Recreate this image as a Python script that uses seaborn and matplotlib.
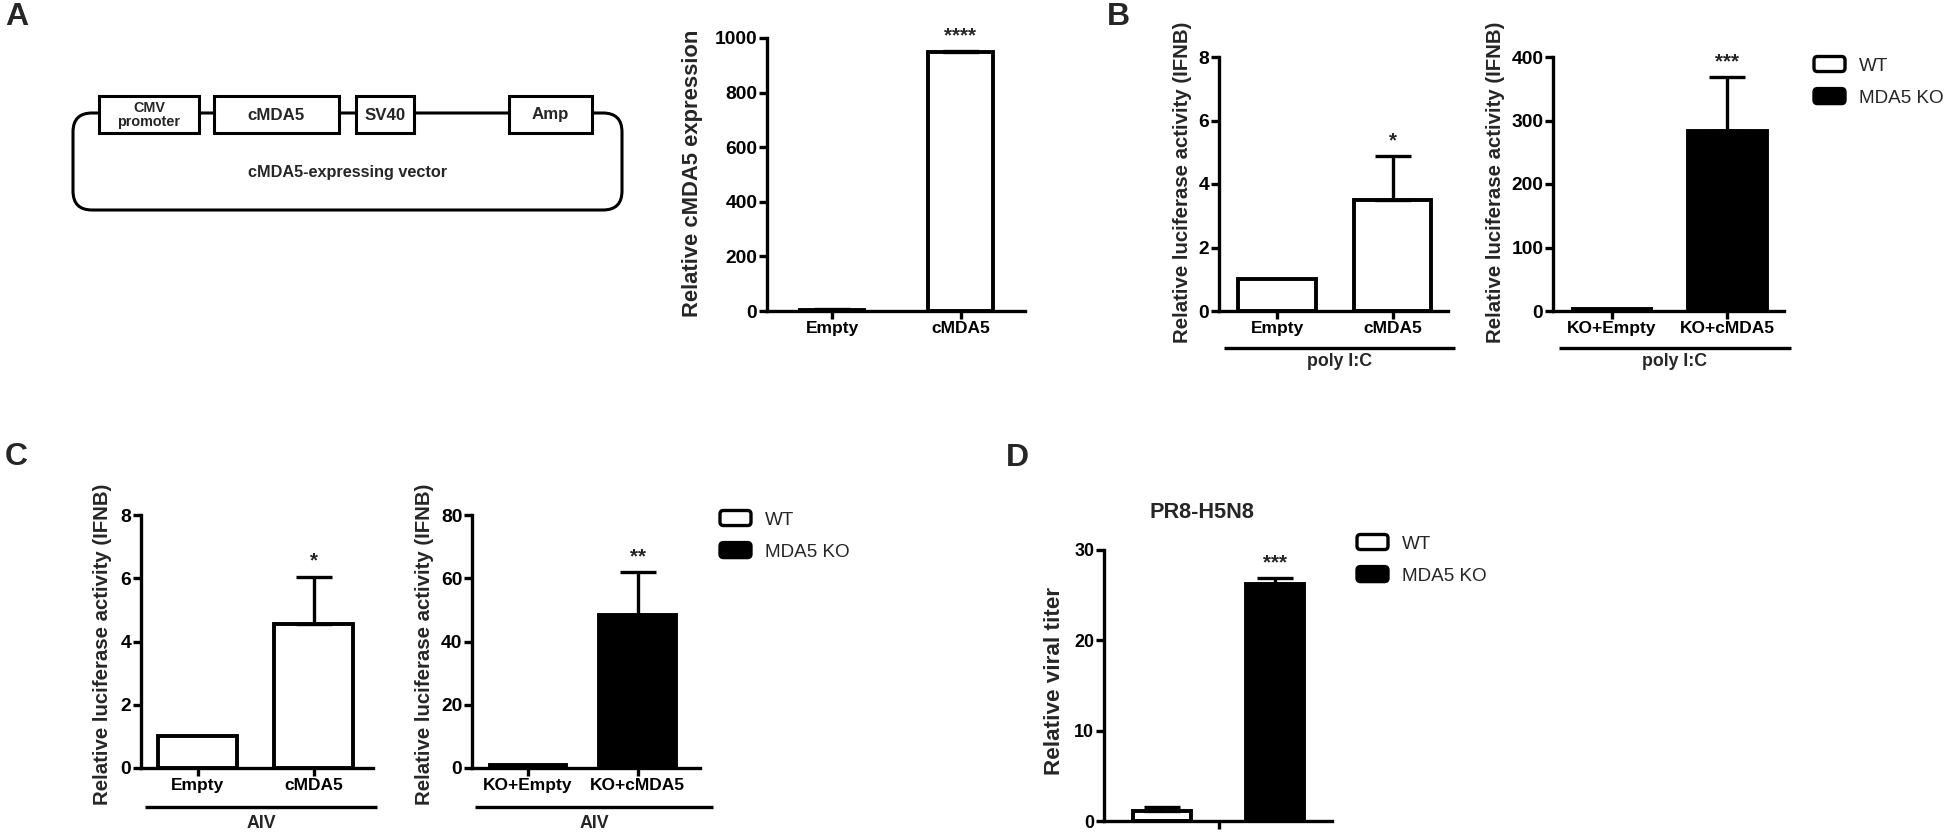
import numpy as np
import pandas as pd
import matplotlib
matplotlib.use('Agg')
import matplotlib.pyplot as plt
import seaborn as sns
from matplotlib.patches import Patch, FancyBboxPatch, Rectangle
from matplotlib.legend_handler import HandlerPatch

# ---------------- data ----------------
a_cats = ['Empty', 'cMDA5']
a_means = [5, 947]
a_errs = [2, 5]
a_stars = ['', '****']
a_yticks = [0, 200, 400, 600, 800, 1000]
a_ylabel = 'Relative cMDA5 expression'

b1_cats = ['Empty', 'cMDA5']
b1_means = [1.0, 3.5]
b1_errs = [0.0, 1.37]
b1_stars = ['', '*']
b1_yticks = [0, 2, 4, 6, 8]

b2_cats = ['KO+Empty', 'KO+cMDA5']
b2_means = [2.5, 283]
b2_errs = [0.0, 85]
b2_stars = ['', '***']
b2_yticks = [0, 100, 200, 300, 400]

c1_cats = ['Empty', 'cMDA5']
c1_means = [1.0, 4.55]
c1_errs = [0.0, 1.5]
c1_stars = ['', '*']
c1_yticks = [0, 2, 4, 6, 8]

c2_cats = ['KO+Empty', 'KO+cMDA5']
c2_means = [0.8, 48.3]
c2_errs = [0.0, 13.6]
c2_stars = ['', '**']
c2_yticks = [0, 20, 40, 60, 80]

luc_ylabel = 'Relative luciferase activity (IFNB)'
group_b = 'poly I:C'
group_c = 'AIV'

d_title = 'PR8-H5N8'
d_groups = ['WT', 'MDA5 KO']
d_means = [1.1, 26.2]
d_errs = [0.4, 0.7]
d_stars = ['', '***']
d_yticks = [0, 10, 20, 30]
d_ylabel = 'Relative viral titer'

legend_labels = ['WT', 'MDA5 KO']
legend_fills = ['white', 'black']

vector_parts = ['CMV\npromoter', 'cMDA5', 'SV40', 'Amp']
vector_name = 'cMDA5-expressing vector'
panel_letters = ['A', 'B', 'C', 'D']

# ---------------- style ----------------
sns.set_style('ticks')
plt.rcParams['font.family'] = ['Liberation Sans', 'DejaVu Sans']
plt.rcParams['font.weight'] = 'bold'
plt.rcParams['axes.labelweight'] = 'bold'
plt.rcParams['axes.edgecolor'] = 'black'
plt.rcParams['xtick.color'] = 'black'
plt.rcParams['ytick.color'] = 'black'

W, H = 1950, 836
fig = plt.figure(figsize=(W / 100, H / 100), dpi=100)
fig.patch.set_facecolor('white')
renderer = fig.canvas.get_renderer()


def fit(s, target_px, weight='bold'):
    """font size (pt) giving string s a rendered width of target_px."""
    base = 20.0
    t = fig.text(0, 0, s, fontsize=base, fontweight=weight)
    w = t.get_window_extent(renderer=renderer).width
    t.remove()
    return base * target_px / w


def px_axes(x0, x1, y0, y1):
    return fig.add_axes([x0 / W, 1 - y1 / H, (x1 - x0) / W, (y1 - y0) / H])


LW = 2.4
BAR_LW = 2.8


def style_axes(ax, yticks, xlim, ytick_fs, xtick_fs):
    ax.set_ylim(0, yticks[-1])
    ax.set_yticks(yticks)
    ax.set_xlim(*xlim)
    for s in ['top', 'right']:
        ax.spines[s].set_visible(False)
    for s in ['left', 'bottom']:
        ax.spines[s].set_linewidth(LW)
    ax.tick_params(axis='y', direction='out', length=6, width=LW, labelsize=ytick_fs, pad=1.0)
    ax.tick_params(axis='x', direction='out', length=6, width=LW, labelsize=xtick_fs, pad=1.0)
    ax.set_xlabel('')
    ax.set_facecolor('white')


def add_errs_stars(ax, means, errs, stars, star_fs):
    centers = sorted([p.get_x() + p.get_width() / 2 for p in ax.patches])
    em = star_fs * 100 / 72
    for xc, m, e, s in zip(centers, means, errs, stars):
        if e > 0:
            ax.errorbar([xc], [m], yerr=[[0], [e]], fmt='none', ecolor='black',
                        elinewidth=LW, capsize=13, capthick=LW)
        if s:
            off_px = 22 - 0.58 * em
            ax.annotate(s, (xc, m + e), xytext=(0, off_px * 72 / 100), textcoords='offset points',
                        ha='center', va='baseline', fontsize=star_fs, fontweight='bold')


def set_ylabel(ax, text, fs, center_x, center_y, ax_box):
    x0, x1, y0, y1 = ax_box
    ax.set_ylabel(text, fontsize=fs, fontweight='bold')
    em = fs * 100 / 72
    right = center_x + 0.46 * em
    ax.yaxis.set_label_coords((right - x0) / (x1 - x0), (y1 - center_y) / (y1 - y0))


def bar_panel(ax, box, cats, means, errs, fills, yticks, xlim, width, stars, star_fs,
              ytick_fs, xtick_fs):
    df = pd.DataFrame({'cat': cats, 'val': means})
    sns.barplot(data=df, x='cat', y='val', hue='cat', order=cats, hue_order=cats,
                palette=fills, width=width, edgecolor='black', linewidth=BAR_LW,
                errorbar=None, legend=False, saturation=1, ax=ax)
    style_axes(ax, yticks, xlim, ytick_fs, xtick_fs)
    add_errs_stars(ax, means, errs, stars, star_fs)


def group_line(ax, box, x0p, x1p, y_line, y_text, text, fs):
    bx0, bx1, by0, by1 = box
    fx = lambda px: (px - bx0) / (bx1 - bx0)
    fy = lambda py: (by1 - py) / (by1 - by0)
    ax.plot([fx(x0p), fx(x1p)], [fy(y_line)] * 2, transform=ax.transAxes, clip_on=False,
            color='black', lw=LW, solid_capstyle='butt')
    ax.text(fx((x0p + x1p) / 2), fy(y_text), text, transform=ax.transAxes, ha='center',
            va='center', fontsize=fs, fontweight='bold')


class RoundedPatchHandler(HandlerPatch):
    def create_artists(self, legend, orig_handle, xdescent, ydescent, width, height,
                       fontsize, trans):
        p = FancyBboxPatch((-xdescent, -ydescent), width, height,
                           boxstyle='round,pad=0,rounding_size=2.5',
                           facecolor=orig_handle.get_facecolor(),
                           edgecolor=orig_handle.get_edgecolor(),
                           linewidth=orig_handle.get_linewidth(), transform=trans)
        return [p]


leg_fs = fit('MDA5 KO', 85, weight='normal')
leg_em = leg_fs * 100 / 72


def add_legend(x_left, y_center_first):
    handles = [Patch(facecolor=c, edgecolor='black', linewidth=LW) for c in legend_fills]
    t = fig.text(0, 0, 'MDA5 KO', fontsize=leg_fs, fontweight='normal')
    th = t.get_window_extent(renderer=renderer).height
    t.remove()
    spacing = (31 - th) / leg_em
    fig.legend(handles, legend_labels, loc='upper left',
               bbox_to_anchor=(x_left / W, 1 - (y_center_first - th / 2) / H), frameon=False,
               prop={'family': 'Liberation Sans', 'weight': 'normal', 'size': leg_fs},
               handlelength=31 / leg_em, handleheight=16 / leg_em,
               handletextpad=14 / leg_em, labelspacing=spacing, borderpad=0, borderaxespad=0,
               handler_map={Patch: RoundedPatchHandler()})


# font sizes fitted to the reference text widths
lab_luc = fit(luc_ylabel, 322)
lab_a = fit(a_ylabel, 287)
lab_d = fit(d_ylabel, 187)
ytick_main = fit('1000', 43)
ytick_d = fit('30', 20)
xtick_fs = fit('KO+cMDA5', 95)
group_fs = fit(group_b, 65)
star_fs = fit('***', 24)
title_fs = fit(d_title, 105)

# ---------------- overlay: vector diagram + panel letters ----------------
ov = fig.add_axes([0, 0, 1, 1])
ov.set_xlim(0, W)
ov.set_ylim(H, 0)
ov.axis('off')
ov.add_patch(FancyBboxPatch((73, 113), 622 - 73, 210 - 113,
                            boxstyle='round,pad=0,rounding_size=19',
                            fc='none', ec='black', lw=2.2, zorder=1))
box_x = [(99, 199), (214, 339), (356, 414), (509, 592)]
part_fs = fit('promoter', 63)
for (x0, x1), name in zip(box_x, vector_parts):
    ov.add_patch(Rectangle((x0, 96), x1 - x0, 37, fc='white', ec='black', lw=2.2, zorder=3))
    fs = part_fs if '\n' in name else fit('cMDA5', 57)
    ov.text((x0 + x1) / 2, 115, name, ha='center', va='center', fontsize=fs,
            fontweight='bold', linespacing=0.95, zorder=4)
ov.text(348, 173, vector_name, ha='center', va='center', fontsize=fit(vector_name, 200),
        fontweight='bold')
for letter, (lx, ly) in zip(panel_letters, [(17, 17), (1118, 17), (16, 457), (1017, 458)]):
    ov.text(lx, ly, letter, ha='center', va='center', fontsize=23, fontweight='bold')

# ---------------- panel A chart ----------------
boxA = (767, 1025, 38, 311)
axA = px_axes(*boxA)
bar_panel(axA, boxA, a_cats, a_means, a_errs, ['white', 'white'], a_yticks, (-0.506, 1.502), 0.5,
          a_stars, star_fs, ytick_main, xtick_fs)
set_ylabel(axA, a_ylabel, lab_a, 693, 173.5, boxA)

# ---------------- panel B ----------------
boxB1 = (1219, 1448, 57, 311)
axB1 = px_axes(*boxB1)
bar_panel(axB1, boxB1, b1_cats, b1_means, b1_errs, ['white', 'white'], b1_yticks, (-0.502, 1.48),
          0.67, b1_stars, star_fs, ytick_main, xtick_fs)
set_ylabel(axB1, luc_ylabel, lab_luc, 1183, 182.5, boxB1)
group_line(axB1, boxB1, 1224, 1455, 348, 362, group_b, group_fs)

boxB2 = (1553, 1784, 57, 311)
axB2 = px_axes(*boxB2)
bar_panel(axB2, boxB2, b2_cats, b2_means, b2_errs, ['black', 'black'], b2_yticks, (-0.509, 1.49),
          0.68, b2_stars, star_fs, ytick_main, xtick_fs)
set_ylabel(axB2, luc_ylabel, lab_luc, 1496, 182.5, boxB2)
group_line(axB2, boxB2, 1559, 1791, 348, 362, group_b, group_fs)
add_legend(1814, 65)

# ---------------- panel C ----------------
boxC1 = (141, 373, 515, 768)
axC1 = px_axes(*boxC1)
bar_panel(axC1, boxC1, c1_cats, c1_means, c1_errs, ['white', 'white'], c1_yticks, (-0.49, 1.51),
          0.68, c1_stars, star_fs, ytick_main, xtick_fs)
set_ylabel(axC1, luc_ylabel, lab_luc, 103, 644, boxC1)
group_line(axC1, boxC1, 145, 377, 807, 823, group_c, group_fs)

boxC2 = (472, 700, 515, 768)
axC2 = px_axes(*boxC2)
bar_panel(axC2, boxC2, c2_cats, c2_means, c2_errs, ['black', 'black'], c2_yticks, (-0.51, 1.57),
          0.7, c2_stars, star_fs, ytick_main, xtick_fs)
set_ylabel(axC2, luc_ylabel, lab_luc, 425, 644, boxC2)
group_line(axC2, boxC2, 475, 713, 807, 823, group_c, group_fs)
add_legend(720, 519)

# ---------------- panel D ----------------
boxD = (1104, 1332, 550, 821)
axD = px_axes(*boxD)
df_d = pd.DataFrame({'virus': [d_title] * len(d_groups), 'group': d_groups, 'val': d_means})
sns.barplot(data=df_d, x='virus', y='val', hue='group', hue_order=d_groups,
            palette=legend_fills, width=0.8, gap=0.49, edgecolor='black', linewidth=BAR_LW,
            errorbar=None, legend=False, saturation=1, ax=axD)
style_axes(axD, d_yticks, (-0.405, 0.40), ytick_d, xtick_fs)
axD.set_xticks([0])
axD.set_xticklabels([''])
add_errs_stars(axD, d_means, d_errs, d_stars, star_fs)
set_ylabel(axD, d_ylabel, lab_d, 1055, 681, boxD)
ov.text(1202, 512, d_title, ha='center', va='center', fontsize=title_fs, fontweight='bold')
add_legend(1357, 543)

fig.savefig('out.png', dpi=100, facecolor='white')
